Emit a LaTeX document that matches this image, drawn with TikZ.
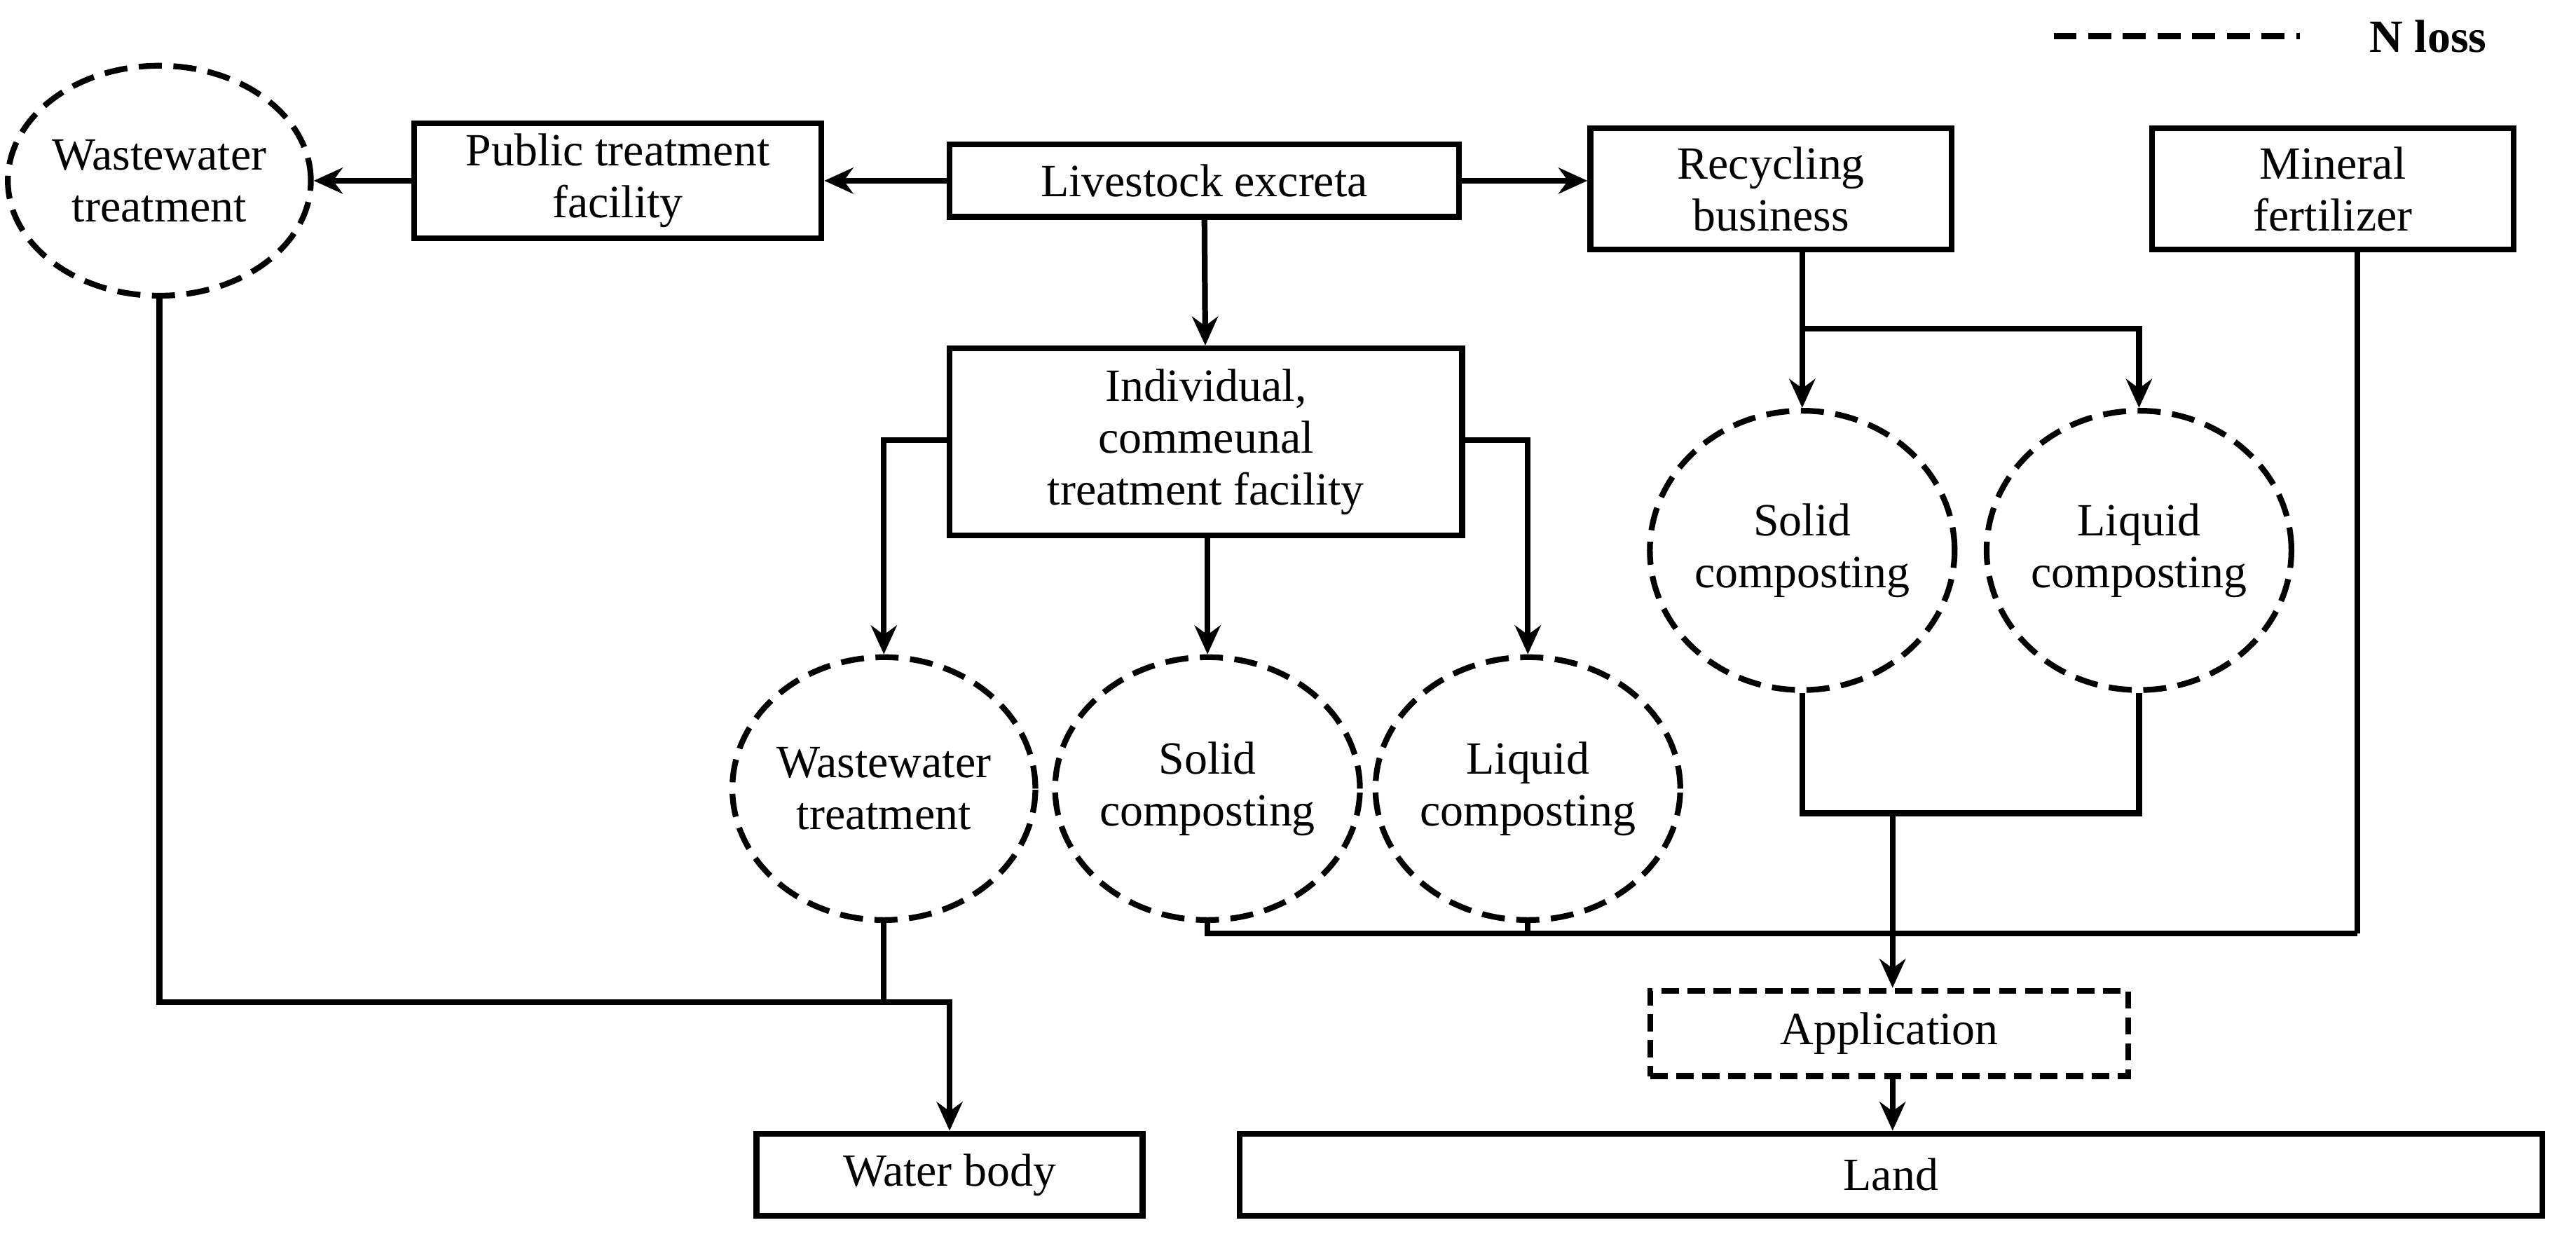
\documentclass[tikz,border=0pt]{standalone}
\usepackage{fontspec}
\setmainfont{Liberation Serif}
\usetikzlibrary{shapes.geometric,arrows.meta}
\begin{document}
\begin{tikzpicture}[x=0.02cm,y=-0.02cm,
  every node/.style={font=\fontsize{16}{18}\selectfont, align=center, inner sep=0pt},
  sz/.style 2 args={minimum width=#1*0.02cm, minimum height=#2*0.02cm},
  box/.style={draw, line width=2pt, rectangle},
  ell/.style={draw, line width=2pt, dashed, dash pattern=on 8pt off 4pt, ellipse},
  ln/.style={line width=2pt},
  ar/.style={line width=2pt, -{Stealth[length=10pt,width=9pt]}}]
\useasboundingbox (0,0) rectangle (1568,758);
\node[ell, sz={164}{140}] (ww1) at (97,110) {Wastewater\\treatment};
\node[box, sz={248}{70}] (pub) at (376,110) {Public treatment\\facility};
\node[box, sz={310}{44}] (live) at (733,110) {Livestock excreta};
\node[box, sz={220}{74}] (rec) at (1078,115) {Recycling\\business};
\node[box, sz={220}{74}] (min) at (1420,115) {Mineral\\fertilizer};
\node[box, sz={312}{114}] (ind) at (734,269) {Individual,\\commeunal\\treatment facility};
\node[ell, sz={164}{160}] (ww2) at (538,480) {Wastewater\\treatment};
\node[ell, sz={164}{160}] (sol2) at (735,480) {Solid\\composting};
\node[ell, sz={164}{160}] (liq2) at (930,480) {Liquid\\composting};
\node[ell, sz={164}{170}] (sol1) at (1097,335) {Solid\\composting};
\node[ell, sz={164}{170}] (liq1) at (1302,335) {Liquid\\composting};
\node[box, dashed, dash pattern=on 6pt off 3pt, sz={291}{52}] (app) at (1150,629) {Application};
\node[box, sz={235}{50}] (wb) at (578,715) {Water body};
\node[box, sz={793}{50}] (land) at (1151,715) {Land};
% legend
\coordinate (l1) at (1250,22); \coordinate (l2) at (1400,22);
\draw[ln, dashed, dash pattern=on 8pt off 4pt] (l1) -- (l2);
\node[font=\fontsize{16}{18}\selectfont\bfseries] (nloss) at (1478,22) {N loss};
% connectors
\draw[ar] (live.west) -- (pub.east |- live.west);
\draw[ar] (pub.west) -- (ww1.east |- pub.west);
\draw[ar] (live.east) -- (rec.west |- live.east);
\draw[ar] (live) -- (ind);
\draw[ar] (ind.west |- 0,268) -| (ww2.north);
\draw[ar] (ind.east |- 0,268) -| (liq2.north);
\draw[ar] (ind.south -| sol2) -- (sol2.north);
\coordinate (rs) at (1097,200);
\draw[ln] (rec.south -| rs) -- (rs);
\draw[ar] (rs) -- (sol1.north);
\draw[ar] (rs) -| (liq1.north);
\coordinate (wj) at (538,610);
\draw[ln] (ww1.south) |- (wj);
\draw[ln] (ww2.south) -- (wj);
\draw[ar] (wj) -| (wb.north);
\coordinate (rj) at (1152,495);
\draw[ln] (sol1.south) |- (rj);
\draw[ln] (liq1.south) |- (rj);
\coordinate (sj) at (1435,568);
\draw[ln] (sol2.south) |- (sj);
\draw[ln] (liq2.south) -- (liq2.south |- sj);
\draw[ln] (min.south -| sj) -- (sj);
\draw[ar] (rj) -- (app.north -| rj);
\draw[ar] (app.south -| rj) -- (land.north -| rj);
\end{tikzpicture}
\end{document}
